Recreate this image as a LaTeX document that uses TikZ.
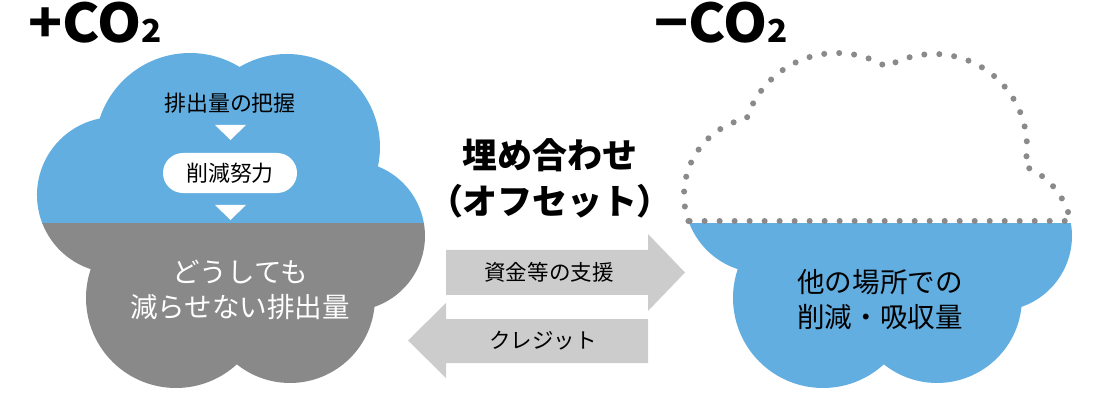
\documentclass[tikz,border=0pt]{standalone}
\usepackage{fontspec}
\setmainfont{Noto Sans CJK JP}
\usetikzlibrary{positioning}
\definecolor{cloudblue}{RGB}{99,174,224}
\definecolor{cloudgray}{RGB}{137,137,137}
\definecolor{arrowgray}{RGB}{204,204,204}
\definecolor{dotgray}{RGB}{138,138,138}
\tikzstyle{titlenode} = [anchor=base west, inner sep=0pt, font=\fontsize{38pt}{38pt}\selectfont\bfseries\addfontfeature{FakeStretch=1.05}]
\tikzstyle{smallnode} = [inner sep=0pt, font=\fontsize{15.6pt}{18pt}\selectfont]
\tikzstyle{pillnode} = [fill=white, rounded corners=0.5cm, minimum width=3.35cm, minimum height=1cm, inner sep=0pt, font=\fontsize{15.6pt}{18pt}\selectfont]
\tikzstyle{bignode} = [inner sep=0pt, align=center, font=\fontsize{19.6pt}{24.9pt}\selectfont]
\tikzstyle{midnode} = [inner sep=0pt, align=center, font=\fontsize{24.9pt}{32.7pt}\selectfont\bfseries]
\tikzstyle{arrownode} = [inner sep=0pt, font=\fontsize{15.3pt}{18pt}\selectfont]
\tikzstyle{dotline} = [draw=dotgray, line width=4.3pt, line cap=round, dash pattern=on 0pt off 10.67pt]
\newcommand{\subtwo}{{\fontsize{22.5pt}{22.5pt}\selectfont 2}}
\newcommand{\halfparen}[1]{{\addfontfeature{RawFeature=+palt}#1}}
% cloud outline, pixel units, y downwards
\newcommand{\cloudshape}{(90.76,269.14)
  arc[start angle=108.1, end angle=258.68, radius=78]
  arc[start angle=198.08, end angle=301.47, radius=95]
  arc[start angle=239.36, end angle=372.05, radius=93]
  arc[start angle=291.89, end angle=430.9, radius=75]
  arc[start angle=6.0, end angle=128.7, radius=85]
  arc[start angle=47.47, end angle=198.7, radius=90] -- cycle}

\begin{document}
\begin{tikzpicture}[x=0.025cm, y=-0.025cm]
  \useasboundingbox (0,0) rectangle (1100,400);

  % left cloud
  \begin{scope}
    \clip (0,0) rectangle (1100,224);
    \fill[cloudblue] \cloudshape;
  \end{scope}
  \begin{scope}
    \clip (0,224) rectangle (1100,400);
    \fill[cloudgray] \cloudshape;
  \end{scope}

  % right cloud
  \begin{scope}[shift={(647,0)}]
    \clip (0,224) rectangle (500,400);
    \fill[cloudblue] \cloudshape;
  \end{scope}
  \begin{scope}[shift={(647,0)}]
    \draw[dotline] (41.47,221.04)
      arc[start angle=160.5, end angle=258.68, radius=78]
      arc[start angle=198.08, end angle=301.47, radius=95]
      arc[start angle=239.36, end angle=372.05, radius=93]
      arc[start angle=291.89, end angle=348.46, radius=75] -- cycle;
  \end{scope}

  \node[titlenode] (plus) at (28,43) {+CO\subtwo};
  \node[titlenode] (minus) at (654,43) {−CO\subtwo};

  \node[smallnode] (grasp) at (230,103) {排出量の把握};
  \node[pillnode] (effort) at (230,173) {削減努力};
  \coordinate (tri1) at (230.5,132.5);
  \coordinate (tri2) at (230.5,212.5);
  \fill[white] (tri1) ++(-15.5,-7.5) -- ++(31,0) -- ++(-15.5,15) -- cycle;
  \fill[white] (tri2) ++(-15.5,-7.5) -- ++(31,0) -- ++(-15.5,15) -- cycle;
  \node[bignode, white] (rest) at (240,290) {どうしても\\減らせない排出量};

  \node[midnode] (offset) at (550,178) {埋め合わせ\\\halfparen{（}オフセット\halfparen{）}};

  \fill[arrowgray] (446,250) -- (648,250) -- (648,234) -- (685,272.5)
    -- (648,311) -- (648,295) -- (446,295) -- cycle;
  \fill[arrowgray] (648,319) -- (446,319) -- (446,303) -- (408,340.5)
    -- (446,378) -- (446,363) -- (648,363) -- cycle;
  \node[arrownode] (fund) at (549,272.5) {資金等の支援};
  \node[arrownode] (credit) at (543,341) {クレジット};

  \node[bignode] (other) at (880,300) {他の場所での\\削減・吸収量};
\end{tikzpicture}
\end{document}
